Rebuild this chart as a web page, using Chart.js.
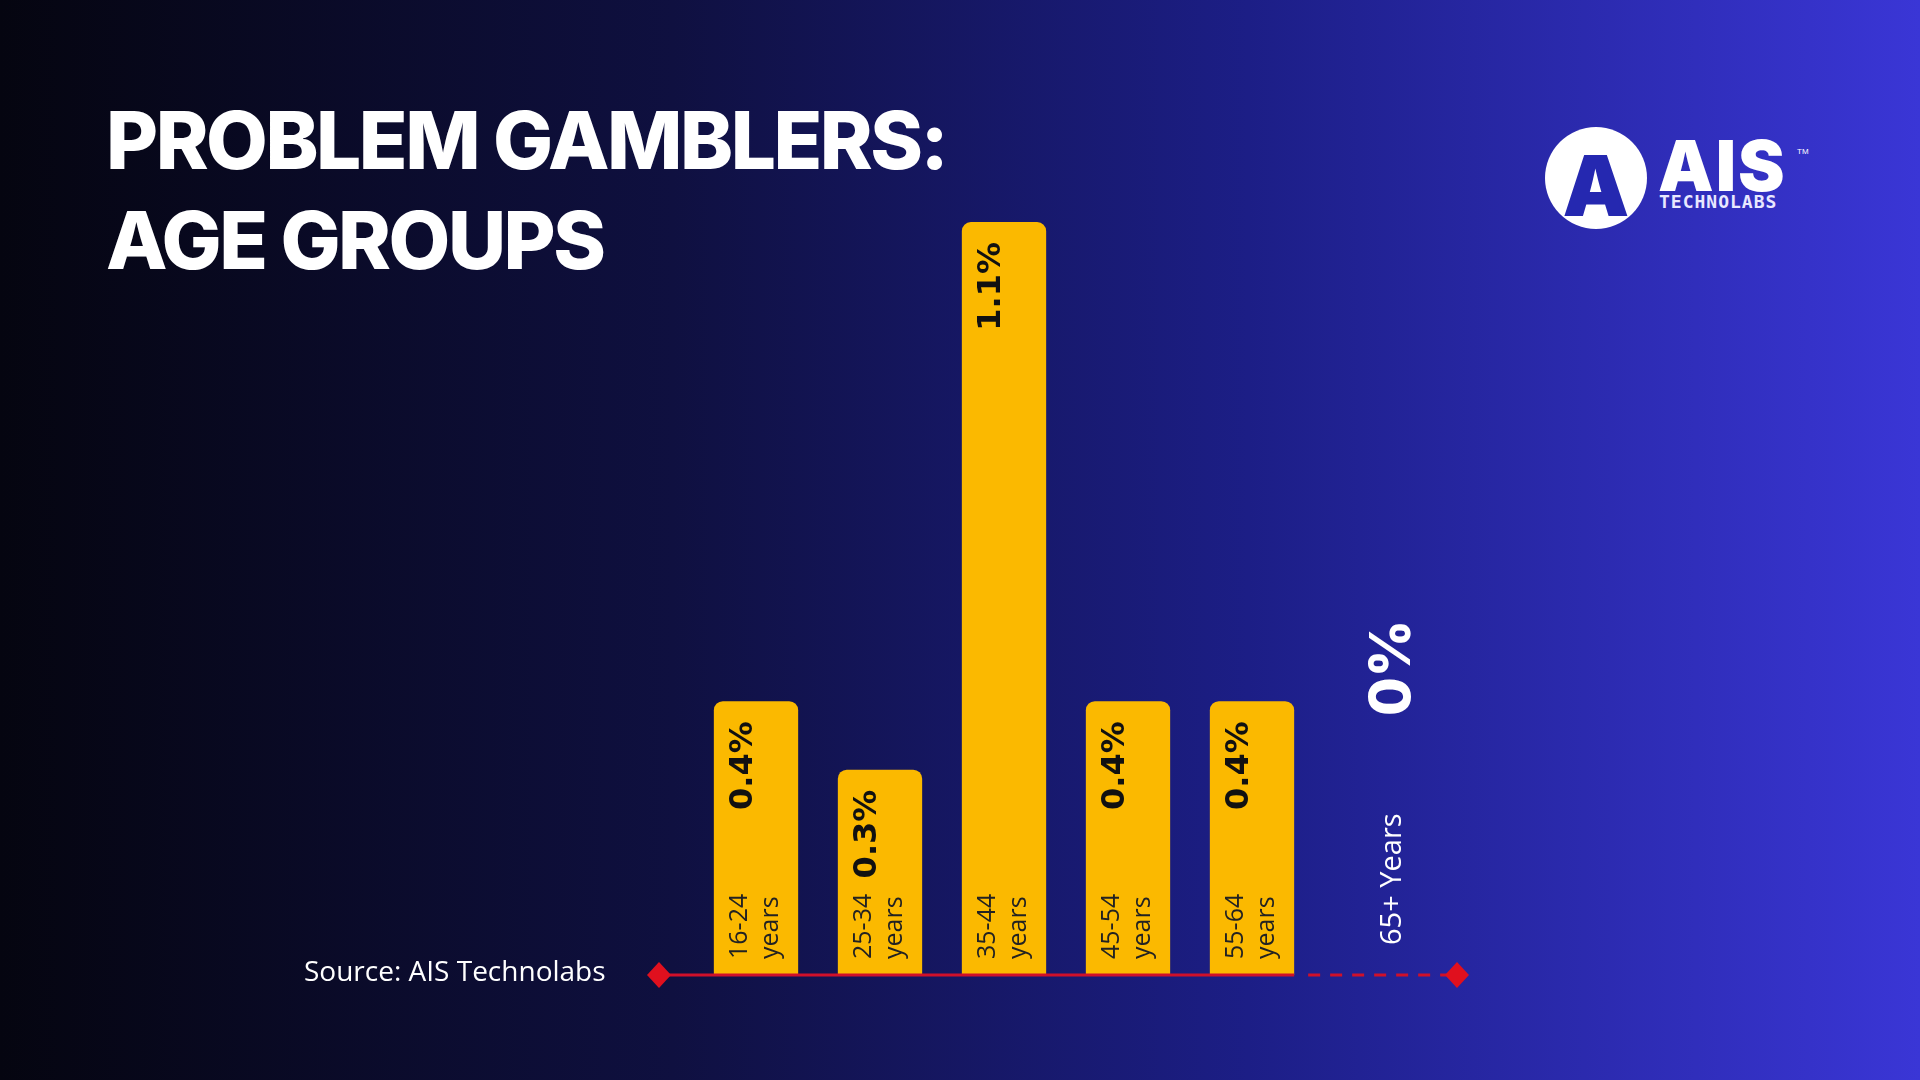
<!DOCTYPE html>
<html>
<head>
<meta charset="utf-8">
<script src="https://cdn.jsdelivr.net/npm/chart.js@4"></script>
<style>
  html, body { margin: 0; padding: 0; }
  body {
    width: 1920px; height: 1080px; overflow: hidden; position: relative;
    background: linear-gradient(90deg, #050510 0%, #0f1040 35%, #1c1e86 65%, #3a36d6 100%);
    font-family: "Open Sans", sans-serif;
  }
  h1 {
    position: absolute; left: 106px; top: 90px; margin: 0;
    color: #fff; font-family: Inter, sans-serif; font-weight: 800;
    font-size: 80px; line-height: 100px; letter-spacing: -2.5px;
  }
  #logo { position: absolute; left: 1545px; top: 127px; width: 260px; height: 104px; }
  #logo .circle {
    position: absolute; left: 0; top: 0; width: 102px; height: 102px; border-radius: 50%; background: #fff;
  }
  #logo .circle span {
    position: absolute; left: 0; width: 102px; top: 8px; text-align: center;
    font: 900 84px Inter, sans-serif; color: #2528b0;
  }
  #logo .ais { position: absolute; left: 113px; top: -4px; color: #fff; font: 900 70px Inter, sans-serif; letter-spacing: 2px; }
  #logo .tech { position: absolute; left: 114px; top: 64px; color: #e8e8ff; font: 700 18px "DejaVu Sans Mono", monospace; letter-spacing: 1px; }
  #logo .tm { position: absolute; left: 252px; top: 20px; color: #fff; font: 8px sans-serif; }
  #chart { position: absolute; left: 0; top: 0; }
</style>
</head>
<body>
<h1>PROBLEM GAMBLERS:<br>AGE GROUPS</h1>
<div id="logo">
  <div class="circle"><span>A</span></div>
  <div class="ais">AIS</div>
  <div class="tm">TM</div>
  <div class="tech">TECHNOLABS</div>
</div>
<canvas id="chart" width="1920" height="1080"></canvas>
<script>
const categories = ["16-24 years", "25-34 years", "35-44 years", "45-54 years", "55-64 years", "65+ Years"];
const values = [0.4, 0.3, 1.1, 0.4, 0.4, 0];
const valueLabels = ["0.4%", "0.3%", "1.1%", "0.4%", "0.4%", "0%"];

// red baseline, diamonds, rotated labels
const decorPlugin = {
  id: 'decor',
  afterDatasetsDraw(chart) {
    const ctx = chart.ctx;
    const bars = chart.getDatasetMeta(0).data;
    const base = chart.scales.y.getPixelForValue(0);
    const left = 659, right = 1457;
    const lastBarRight = bars[4].x + bars[4].width / 2;

    ctx.save();
    ctx.strokeStyle = '#d0102a';
    ctx.lineWidth = 3;
    ctx.beginPath();
    ctx.moveTo(left, base);
    ctx.lineTo(lastBarRight, base);
    ctx.stroke();
    ctx.setLineDash([12, 10]);
    ctx.beginPath();
    ctx.moveTo(lastBarRight + 14, base);
    ctx.lineTo(right, base);
    ctx.stroke();
    ctx.setLineDash([]);

    ctx.fillStyle = '#e0101e';
    [left, right].forEach(x => {
      ctx.beginPath();
      ctx.moveTo(x, base - 13);
      ctx.lineTo(x + 12, base);
      ctx.lineTo(x, base + 13);
      ctx.lineTo(x - 12, base);
      ctx.closePath();
      ctx.fill();
    });

    bars.forEach((bar, i) => {
      ctx.save();
      ctx.translate(bar.x, 0);
      ctx.rotate(-Math.PI / 2);
      ctx.textBaseline = 'middle';
      if (i < 5) {
        const parts = categories[i].split(' ');
        ctx.fillStyle = '#222';
        ctx.font = '25px "Open Sans", sans-serif';
        ctx.textAlign = 'left';
        ctx.fillText(parts[0], -base + 16, -16);
        ctx.fillText(parts[1], -base + 16, 15);
        ctx.font = 'bold 32px "DejaVu Sans", sans-serif';
        ctx.fillStyle = '#111';
        ctx.textAlign = 'right';
        ctx.fillText(valueLabels[i], -bar.y - 20, -12);
      } else {
        ctx.translate(0, 17);
        ctx.fillStyle = '#fff';
        ctx.font = '29px "Open Sans", sans-serif';
        ctx.textAlign = 'left';
        ctx.fillText(categories[i], -base + 30, 0);
        ctx.font = '800 56px Inter, sans-serif';
        ctx.fillText(valueLabels[i], -base + 259, 0);
      }
      ctx.restore();
    });

    ctx.fillStyle = '#fff';
    ctx.font = '28px "Open Sans", sans-serif';
    ctx.textAlign = 'left';
    ctx.textBaseline = 'middle';
    ctx.fillText('Source: AIS Technolabs', 304, base - 2);
    ctx.restore();
  }
};

new Chart(document.getElementById('chart'), {
  type: 'bar',
  data: {
    labels: categories,
    datasets: [{
      data: values,
      backgroundColor: '#fbb900',
      borderRadius: { topLeft: 9, topRight: 9, bottomLeft: 0, bottomRight: 0 },
      borderSkipped: 'bottom',
      barPercentage: 0.68,
      categoryPercentage: 1
    }]
  },
  options: {
    responsive: false,
    animation: false,
    layout: { padding: { left: 694, right: 482, top: 222, bottom: 105 } },
    scales: {
      x: { display: false },
      y: { display: false, min: 0, max: 1.1 }
    },
    plugins: { legend: { display: false }, tooltip: { enabled: false } }
  },
  plugins: [decorPlugin]
});
</script>
</body>
</html>
